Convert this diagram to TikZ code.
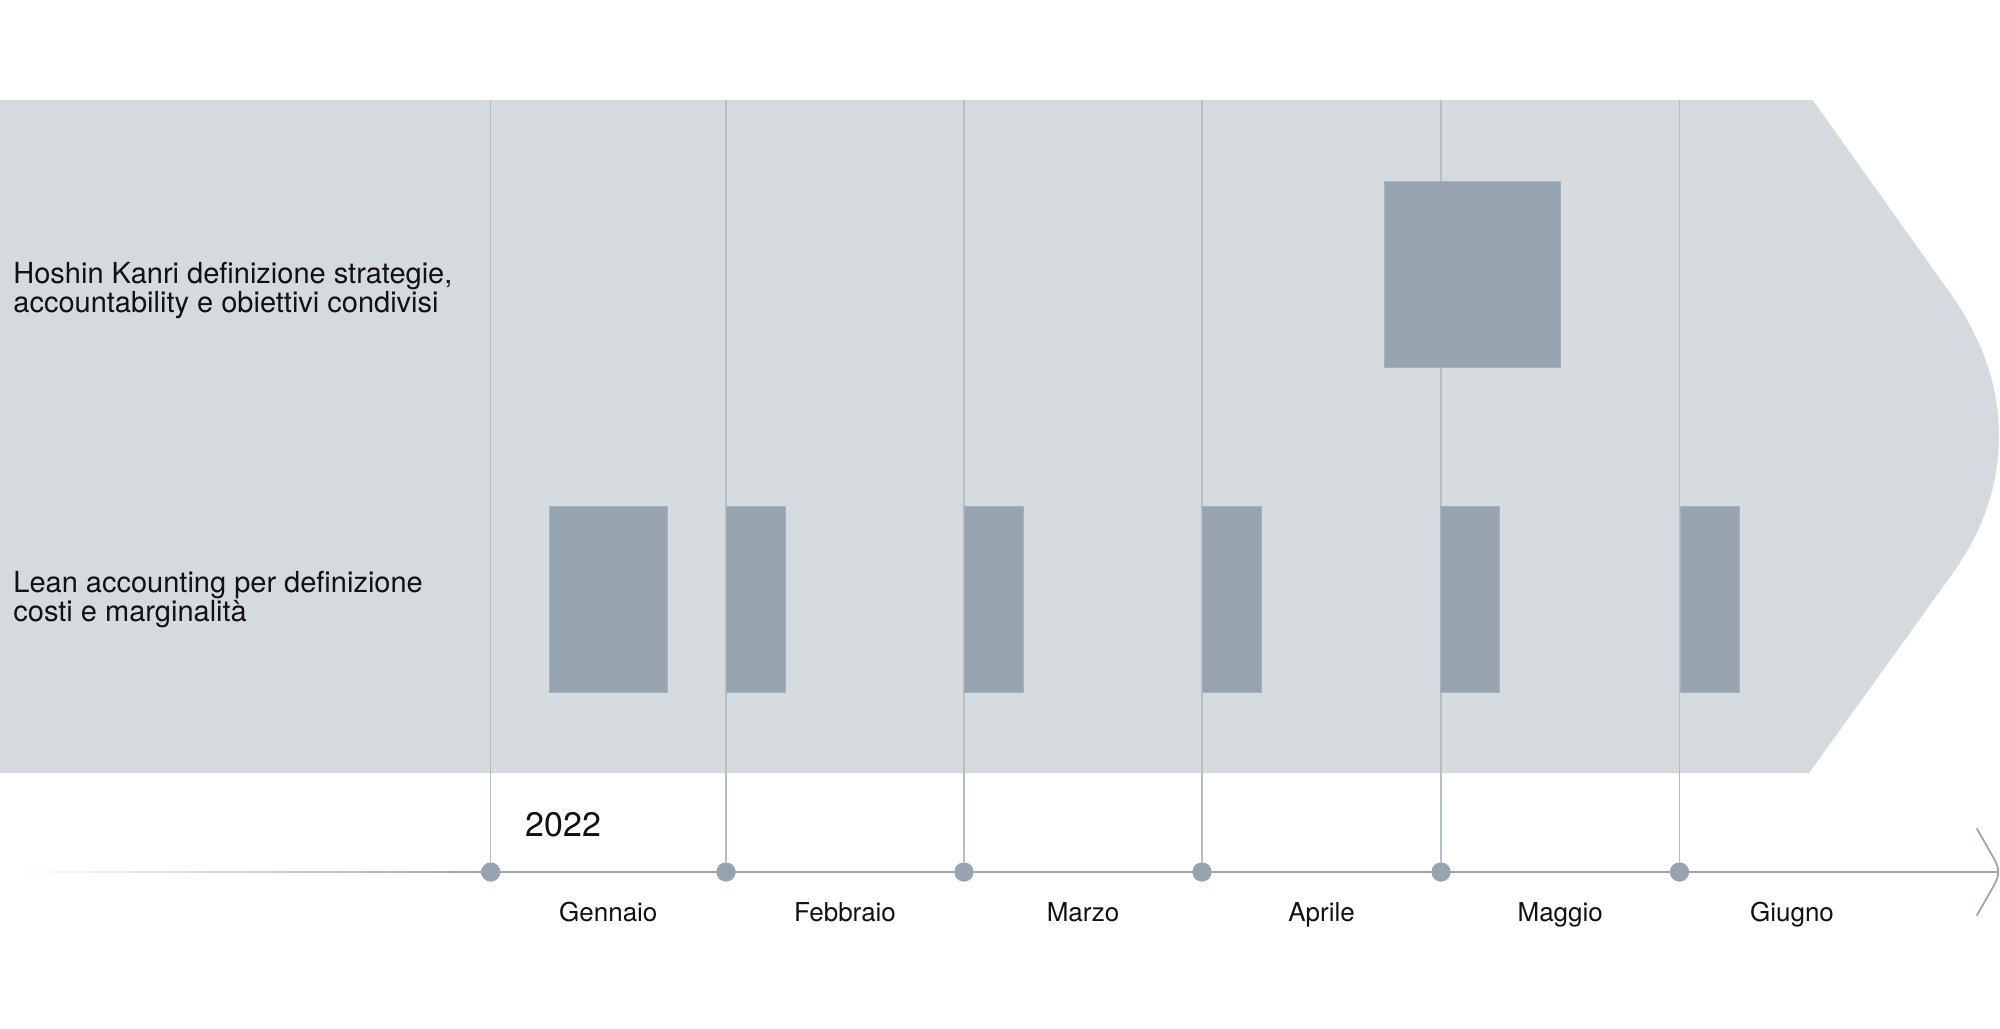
\documentclass[tikz,border=0pt]{standalone}
\usepackage{fontspec}
\setmainfont{TeX Gyre Heros}
\definecolor{bandc}{HTML}{D5DADF}
\definecolor{barc}{HTML}{97A3AF}
\definecolor{barline}{HTML}{A7B1BB}
\definecolor{linec}{HTML}{B5BDC6}
\definecolor{axisc}{HTML}{9AA5B1}
\definecolor{txtc}{HTML}{111111}
\tikzset{
  band/.style={fill=bandc},
  vline/.style={draw=linec, line width=0.7pt},
  bar/.style={fill=barc, draw=barline, line width=0.4pt},
  dot/.style={circle, fill=barc, inner sep=0pt, minimum size=9.5pt},
  axis/.style={draw=axisc, line width=1pt},
  rowlabel/.style={anchor=base west, inner sep=0pt, align=left, text=txtc,
    font=\fontsize{14.5pt}{14.7pt}\selectfont},
  monthlabel/.style={anchor=base, inner sep=0pt, text=txtc,
    font=\fontsize{13pt}{15pt}\selectfont},
  yearlabel/.style={anchor=base west, inner sep=0pt, text=txtc,
    font=\fontsize{17pt}{20pt}\selectfont}
}
\begin{document}
\begin{tikzpicture}[x=0.5pt, y=-0.5pt]
\path[use as bounding box] (0,0) rectangle (2000,1028);

% background band with arrow-shaped right end
\path[band] (0,100) -- (1812.7,100) -- (1950,293)
  .. controls (1984.8,342) and (1999,390) .. (1999,436)
  .. controls (1999,482) and (1984.8,530) .. (1950,577)
  -- (1809,773) -- (0,773) -- cycle;

% axis: fading start
\shade[left color=white, right color=axisc] (13,871.5) rectangle (490.7,872.5);

% month dots
\node[dot] (d1) at (490.7,872) {};
\node[dot] (d2) at (726,872) {};
\node[dot] (d3) at (964,872) {};
\node[dot] (d4) at (1202,872) {};
\node[dot] (d5) at (1441,872) {};
\node[dot] (d6) at (1679.5,872) {};
\coordinate (t1) at (490.7,100);
\coordinate (t2) at (726,100);
\coordinate (t3) at (964,100);
\coordinate (t4) at (1202,100);
\coordinate (t5) at (1441,100);
\coordinate (t6) at (1679.5,100);
\coordinate (aend) at (1998,872);

% vertical month lines
\foreach \i in {1,...,6} { \draw[vline] (t\i) -- (d\i.north); }

% axis line and arrowhead
\draw[axis] (d1.center) -- (aend);
\draw[axis, line width=0.9pt] (1976.7,828.3) -- (1992.5,856)
  .. controls (1997,864) and (1998.5,868) .. (aend)
  .. controls (1998.5,876) and (1997,880) .. (1992.5,888)
  -- (1976.7,915.7);
\foreach \i in {1,...,6} { \node[dot] at (d\i) {}; }

% bars: Hoshin Kanri
\draw[bar] (1384.7,181.7) rectangle (1560.7,367);
% bars: Lean accounting
\draw[bar] (549.3,506.7) rectangle (667.3,692);
\draw[bar] (726.7,506.7) rectangle (785.3,692);
\draw[bar] (964.7,506.7) rectangle (1023.3,692);
\draw[bar] (1202.7,506.7) rectangle (1261.3,692);
\draw[bar] (1440.5,506.7) rectangle (1499,692);
\draw[bar] (1680.7,506.7) rectangle (1739.3,692);

% row labels (base anchor = baseline of last line)
\node[rowlabel] (l1) at (13,312.7) {Hoshin Kanri definizione strategie,\\accountability e obiettivi condivisi};
\node[rowlabel] (l2) at (13,621.7) {Lean accounting per definizione\\costi e marginalità};

% year
\node[yearlabel] (yr) at (525,836.7) {2022};

% months
\node[monthlabel] (m1) at (608.3,921.7) {Gennaio};
\node[monthlabel] (m2) at (845,921.7) {Febbraio};
\node[monthlabel] (m3) at (1083,921.7) {Marzo};
\node[monthlabel] (m4) at (1321.5,921.7) {Aprile};
\node[monthlabel] (m5) at (1560.2,921.7) {Maggio};
\node[monthlabel] (m6) at (1792,921.7) {Giugno};
\end{tikzpicture}
\end{document}
